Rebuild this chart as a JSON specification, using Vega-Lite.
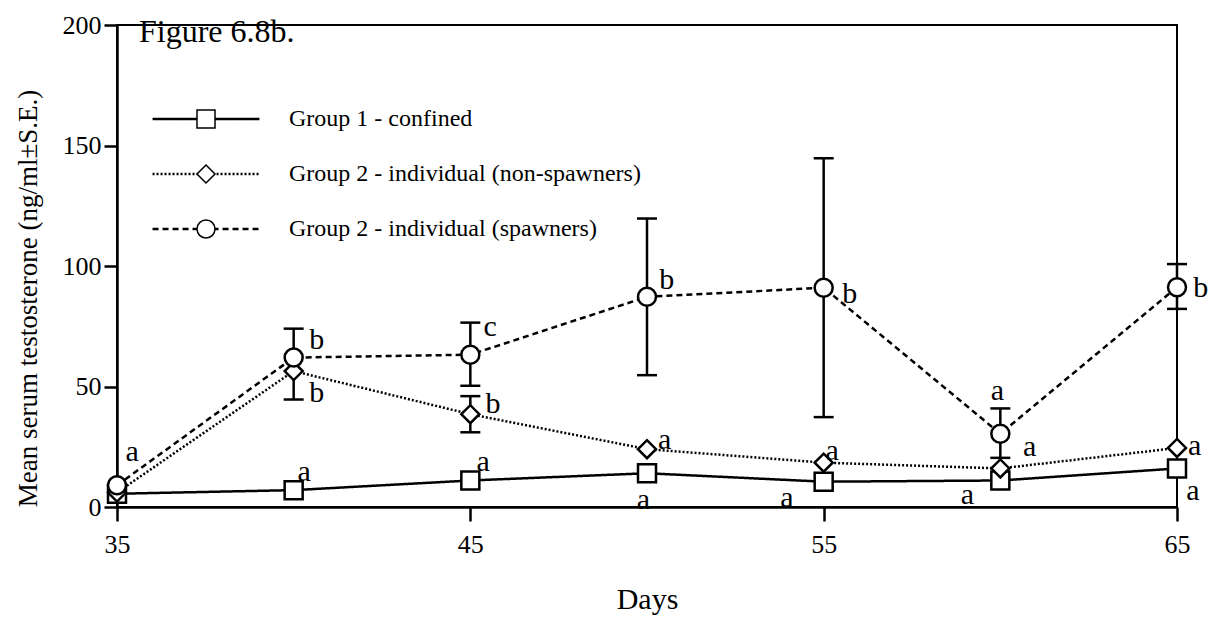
{
  "$schema": "https://vega.github.io/schema/vega-lite/v6.json",
  "width": 1060,
  "height": 482,
  "autosize": {"type": "none"},
  "padding": {"left": 117, "top": 25, "right": 50, "bottom": 114},
  "background": "white",
  "config": {
    "font": "Liberation Serif",
    "view": {"stroke": "black", "strokeWidth": 2},
    "axis": {
      "domainColor": "black", "domainWidth": 2.5, "tickColor": "black", "tickWidth": 2.5,
      "labelColor": "black", "titleColor": "black", "labelFont": "Liberation Serif",
      "titleFont": "Liberation Serif", "grid": false, "titleFontWeight": "normal"
    }
  },
  "title": {
    "text": "Figure 6.8b.", "orient": "top", "anchor": "start", "frame": "group",
    "offset": -62, "baseline": "alphabetic", "fontSize": 32, "fontWeight": "normal",
    "font": "Liberation Serif", "color": "black", "dx": 22
  },
  "datasets": {
    "means": [
      {"day": 35, "group": "Group 1 - confined", "mean": 5.5, "lo": null, "hi": null},
      {"day": 40, "group": "Group 1 - confined", "mean": 7, "lo": null, "hi": null},
      {"day": 45, "group": "Group 1 - confined", "mean": 11, "lo": null, "hi": null},
      {"day": 50, "group": "Group 1 - confined", "mean": 14, "lo": null, "hi": null},
      {"day": 55, "group": "Group 1 - confined", "mean": 10.5, "lo": null, "hi": null},
      {"day": 60, "group": "Group 1 - confined", "mean": 11, "lo": null, "hi": null},
      {"day": 65, "group": "Group 1 - confined", "mean": 16, "lo": null, "hi": null},
      {"day": 35, "group": "Group 2 - individual (non-spawners)", "mean": 6, "lo": null, "hi": null},
      {"day": 40, "group": "Group 2 - individual (non-spawners)", "mean": 56.4, "lo": 44.6, "hi": null},
      {"day": 45, "group": "Group 2 - individual (non-spawners)", "mean": 38.5, "lo": 31, "hi": 46},
      {"day": 50, "group": "Group 2 - individual (non-spawners)", "mean": 24, "lo": null, "hi": null},
      {"day": 55, "group": "Group 2 - individual (non-spawners)", "mean": 18.4, "lo": null, "hi": null},
      {"day": 60, "group": "Group 2 - individual (non-spawners)", "mean": 16, "lo": null, "hi": null},
      {"day": 65, "group": "Group 2 - individual (non-spawners)", "mean": 24.5, "lo": null, "hi": null},
      {"day": 35, "group": "Group 2 - individual (spawners)", "mean": 9, "lo": null, "hi": null},
      {"day": 40, "group": "Group 2 - individual (spawners)", "mean": 62, "lo": null, "hi": 74},
      {"day": 45, "group": "Group 2 - individual (spawners)", "mean": 63.2, "lo": 50.3, "hi": 76.5},
      {"day": 50, "group": "Group 2 - individual (spawners)", "mean": 87.2, "lo": 54.7, "hi": 119.7},
      {"day": 55, "group": "Group 2 - individual (spawners)", "mean": 91, "lo": 37.3, "hi": 144.7},
      {"day": 60, "group": "Group 2 - individual (spawners)", "mean": 30.4, "lo": 20.4, "hi": 40.9},
      {"day": 65, "group": "Group 2 - individual (spawners)", "mean": 91.2, "lo": 82.2, "hi": 100.8}
    ],
    "letters": [
      {"day": 35.43, "level": 22.9, "letter": "a"},
      {"day": 40.65, "level": 69.1, "letter": "b"},
      {"day": 40.65, "level": 47.1, "letter": "b"},
      {"day": 40.3, "level": 14.7, "letter": "a"},
      {"day": 45.56, "level": 74.6, "letter": "c"},
      {"day": 45.64, "level": 42.6, "letter": "b"},
      {"day": 45.36, "level": 18.5, "letter": "a"},
      {"day": 50.56, "level": 94.1, "letter": "b"},
      {"day": 50.5, "level": 27.8, "letter": "a"},
      {"day": 49.9, "level": 3.1, "letter": "a"},
      {"day": 55.74, "level": 88.5, "letter": "b"},
      {"day": 55.24, "level": 23.3, "letter": "a"},
      {"day": 53.96, "level": 3.8, "letter": "a"},
      {"day": 59.92, "level": 48, "letter": "a"},
      {"day": 60.83, "level": 24.8, "letter": "a"},
      {"day": 59.07, "level": 5.1, "letter": "a"},
      {"day": 65.67, "level": 91, "letter": "b"},
      {"day": 65.5, "level": 25.4, "letter": "a"},
      {"day": 65.45, "level": 6.8, "letter": "a"}
    ]
  },
  "encoding": {
    "x": {
      "field": "day", "type": "quantitative", "title": "Days",
      "scale": {"domain": [35, 65], "nice": false, "zero": false},
      "axis": {"values": [35, 45, 55, 65], "tickSize": 14, "labelPadding": 10, "labelFontSize": 26,
               "titleFontSize": 30, "titlePadding": 27, "labelFlush": false, "format": "d"}
    }
  },
  "layer": [
    {
      "data": {"name": "means"},
      "mark": {"type": "line", "color": "black", "strokeWidth": 2.5},
      "encoding": {
        "y": {
          "field": "mean", "type": "quantitative", "title": "Mean serum testosterone (ng/ml±S.E.)",
          "scale": {"domain": [0, 200], "nice": false},
          "axis": {"values": [0, 50, 100, 150, 200], "tickSize": 13, "labelPadding": 3, "labelFontSize": 26,
                   "titleFontSize": 27, "titlePadding": 20, "titleY": 273, "labelFlush": false}
        },
        "strokeDash": {
          "field": "group", "type": "nominal",
          "scale": {"range": [[1, 0], [2, 2], [6, 4]]},
          "legend": {
            "orient": "none", "legendX": 77, "legendY": 82, "title": null,
            "symbolType": "M-5.94,0H5.94", "symbolSize": 324, "symbolStrokeWidth": 2.5,
            "symbolStrokeColor": "black", "symbolFillColor": "transparent",
            "labelFontSize": 24, "labelFont": "Liberation Serif", "labelColor": "black",
            "labelOffset": 71, "rowPadding": 31, "padding": 0, "labelLimit": 0
          }
        }
      }
    },
    {
      "data": {"name": "means"},
      "transform": [{"filter": "datum.hi != null"}],
      "mark": {"type": "rule", "color": "black", "strokeWidth": 2.5},
      "encoding": {
        "y": {"field": "mean", "type": "quantitative", "title": "Mean serum testosterone (ng/ml±S.E.)"},
        "y2": {"field": "hi"}
      }
    },
    {
      "data": {"name": "means"},
      "transform": [{"filter": "datum.lo != null"}],
      "mark": {"type": "rule", "color": "black", "strokeWidth": 2.5},
      "encoding": {
        "y": {"field": "lo", "type": "quantitative", "title": "Mean serum testosterone (ng/ml±S.E.)"},
        "y2": {"field": "mean"}
      }
    },
    {
      "data": {"name": "means"},
      "transform": [{"filter": "datum.hi != null"}],
      "mark": {"type": "tick", "orient": "horizontal", "size": 20, "thickness": 2.5, "color": "black", "opacity": 1},
      "encoding": {
        "y": {"field": "hi", "type": "quantitative", "title": "Mean serum testosterone (ng/ml±S.E.)"}
      }
    },
    {
      "data": {"name": "means"},
      "transform": [{"filter": "datum.lo != null"}],
      "mark": {"type": "tick", "orient": "horizontal", "size": 20, "thickness": 2.5, "color": "black", "opacity": 1},
      "encoding": {
        "y": {"field": "lo", "type": "quantitative", "title": "Mean serum testosterone (ng/ml±S.E.)"}
      }
    },
    {
      "data": {"name": "means"},
      "mark": {"type": "point", "filled": true, "fill": "white", "stroke": "black", "strokeWidth": 2.5, "size": 324, "opacity": 1},
      "encoding": {
        "y": {"field": "mean", "type": "quantitative", "title": "Mean serum testosterone (ng/ml±S.E.)"},
        "shape": {
          "field": "group", "type": "nominal",
          "scale": {
            "domain": ["Group 1 - confined", "Group 2 - individual (non-spawners)", "Group 2 - individual (spawners)"],
            "range": ["square", "diamond", "circle"]
          },
          "legend": {
            "orient": "none", "legendX": 77, "legendY": 82, "title": null,
            "symbolSize": 324, "labelFontSize": 24, "labelFont": "Liberation Serif", "labelExpr": "' '",
            "labelOffset": 71, "rowPadding": 31, "padding": 0, "zindex": 1,
            "encode": {"symbols": {"update": {
              "fill": {"value": "white"}, "stroke": {"value": "black"},
              "strokeWidth": {"value": 2.5}, "opacity": {"value": 1}
            }}}
          }
        }
      }
    },
    {
      "data": {"name": "letters"},
      "mark": {"type": "text", "font": "Liberation Serif", "fontSize": 30, "color": "black", "align": "center", "baseline": "middle"},
      "encoding": {
        "y": {"field": "level", "type": "quantitative", "title": "Mean serum testosterone (ng/ml±S.E.)"},
        "text": {"field": "letter"}
      }
    }
  ]
}
